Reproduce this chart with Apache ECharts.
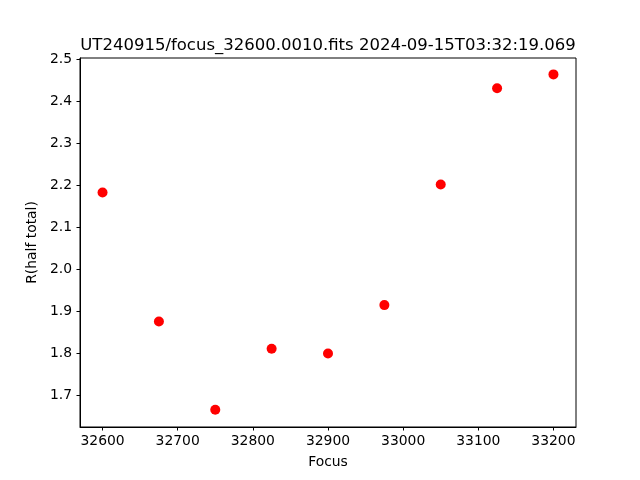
<!DOCTYPE html>
<html>
<head>
<meta charset="utf-8">
<script src="https://cdn.jsdelivr.net/npm/echarts@6/dist/echarts.min.js"></script>
<style>html,body{margin:0;padding:0;background:#fff}#c{width:640px;height:480px}</style>
</head>
<body>
<div id="c"></div>
<script>
var focusValues = [32600, 32675, 32750, 32825, 32900, 32975, 33050, 33125, 33200];
var rHalfTotal = [2.183, 1.876, 1.666, 1.811, 1.800, 1.915, 2.202, 2.431, 2.464];
var xTicks = [32600, 32700, 32800, 32900, 33000, 33100, 33200];
var yTicks = [1.7, 1.8, 1.9, 2.0, 2.1, 2.2, 2.3, 2.4, 2.5];
var titleText = 'UT240915/focus_32600.0010.fits 2024-09-15T03:32:19.069';

var font = 'DejaVu Sans';
var chart = echarts.init(document.getElementById('c'), null, {renderer: 'canvas'});
var pts = focusValues.map(function (f, i) { return [f, rHalfTotal[i]]; });
chart.setOption({
  animation: false,
  backgroundColor: '#fff',
  title: {
    text: titleText,
    left: 323, textAlign: 'center', top: 32,
    textStyle: {fontFamily: font, fontSize: 16.5, fontWeight: 'normal', color: '#000'}
  },
  grid: {left: 80, right: 64, top: 58, bottom: 53, show: true, borderColor: '#000', borderWidth: 1, backgroundColor: 'transparent'},
  xAxis: {
    type: 'value', min: 32570, max: 33230,
    name: 'Focus', nameLocation: 'middle', nameGap: 28,
    nameTextStyle: {fontFamily: font, fontSize: 13.9, color: '#000'},
    splitLine: {show: false},
    axisLine: {show: true, onZero: false, lineStyle: {color: '#000', width: 1}},
    axisTick: {show: true, length: 3.5, lineStyle: {color: '#000'}, customValues: xTicks},
    axisLabel: {fontFamily: font, fontSize: 13.9, color: '#000', margin: 7, customValues: xTicks,
      formatter: function (v) { return String(v); }}
  },
  yAxis: {
    type: 'value', min: 1.625, max: 2.503,
    name: 'R(half total)', nameLocation: 'middle', nameGap: 33,
    nameTextStyle: {fontFamily: font, fontSize: 13.9, color: '#000'},
    splitLine: {show: false},
    axisLine: {show: true, onZero: false, lineStyle: {color: '#000', width: 1}},
    axisTick: {show: true, length: 3.5, lineStyle: {color: '#000'}, customValues: yTicks},
    axisLabel: {fontFamily: font, fontSize: 13.9, color: '#000', margin: 8, customValues: yTicks,
      formatter: function (v) { return v.toFixed(1); }}
  },
  series: [{
    type: 'scatter', data: pts, symbol: 'circle', symbolSize: 10,
    itemStyle: {color: '#ff0000', opacity: 1}
  }]
});
</script>
</body>
</html>
